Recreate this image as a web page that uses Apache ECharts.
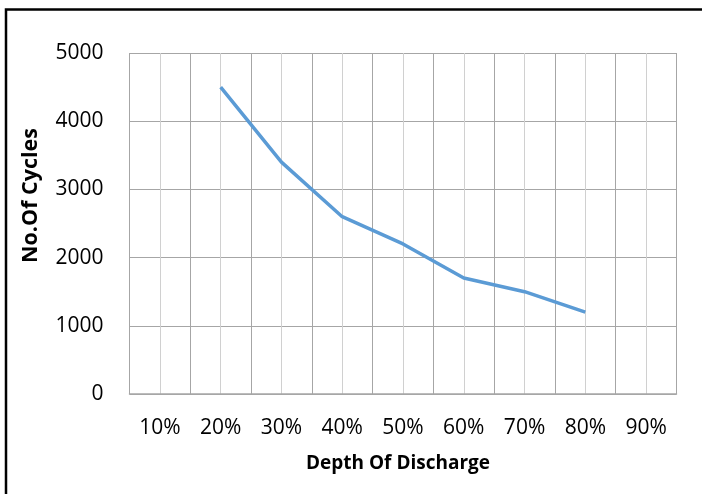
<!DOCTYPE html>
<html><head><meta charset="utf-8">
<script src="https://cdn.jsdelivr.net/npm/echarts@6/dist/echarts.min.js"></script>
<style>html,body{margin:0;padding:0;background:#fff;}#c{width:702px;height:494px;}</style>
</head><body><div id="c"></div>
<script>
var categories = ['10%','20%','30%','40%','50%','60%','70%','80%','90%'];
var cycles = [null,4500,3400,2600,2200,1700,1500,1200,null];
var yTicks = {min:0,max:5000,interval:1000};
var xName = 'Depth Of Discharge';
var yName = 'No.Of Cycles';

var chart = echarts.init(document.getElementById('c'));
var font = 'Open Sans';
chart.setOption({
  animation:false,
  backgroundColor:'#fff',
  graphic:[{type:'polyline',shape:{points:[[6,600],[6,9.5],[800,9.5]]},style:{fill:'none',stroke:'#000',lineWidth:2.5},silent:true,z:100}],
  grid:{left:129.5,right:25.5,top:53,bottom:100},
  xAxis:[{
    type:'category',data:categories,boundaryGap:true,
    name:xName,nameLocation:'middle',nameGap:60,
    nameTextStyle:{fontFamily:font,fontWeight:'bold',fontSize:19,color:'#000',padding:[0,10,0,0]},
    axisLine:{show:true,lineStyle:{color:'#a6a6a6',width:1.5}},
    axisTick:{show:false},
    axisLabel:{fontFamily:font,fontSize:21,color:'#000',margin:24,interval:0},
    splitLine:{show:true,interval:0,lineStyle:{color:'#a6a6a6',width:1}},
    z:3
  },{
    type:'value',min:0,max:categories.length,interval:1,show:true,position:'top',
    axisLine:{show:false},axisTick:{show:false},axisLabel:{show:false},
    splitLine:{show:false},
    minorTick:{show:false,splitNumber:2},
    minorSplitLine:{show:true,lineStyle:{color:'#d0d0d0',width:1}},
    z:1
  }],
  yAxis:{
    type:'value',min:yTicks.min,max:yTicks.max,interval:yTicks.interval,
    name:yName,nameLocation:'middle',nameGap:88,
    nameTextStyle:{fontFamily:font,fontWeight:'bold',fontSize:21.5,color:'#000',padding:[0,0,0,56]},
    axisLine:{show:false},axisTick:{show:false},
    axisLabel:{fontFamily:font,fontSize:21,color:'#000',margin:26,formatter:function(v){return String(v);}},
    splitLine:{show:true,lineStyle:{color:'#a6a6a6',width:1}}
  },
  series:[{
    type:'line',data:cycles,xAxisIndex:0,symbol:'none',connectNulls:false,
    lineStyle:{color:'#5b9bd5',width:3.5},z:5
  }]
});
</script></body></html>
